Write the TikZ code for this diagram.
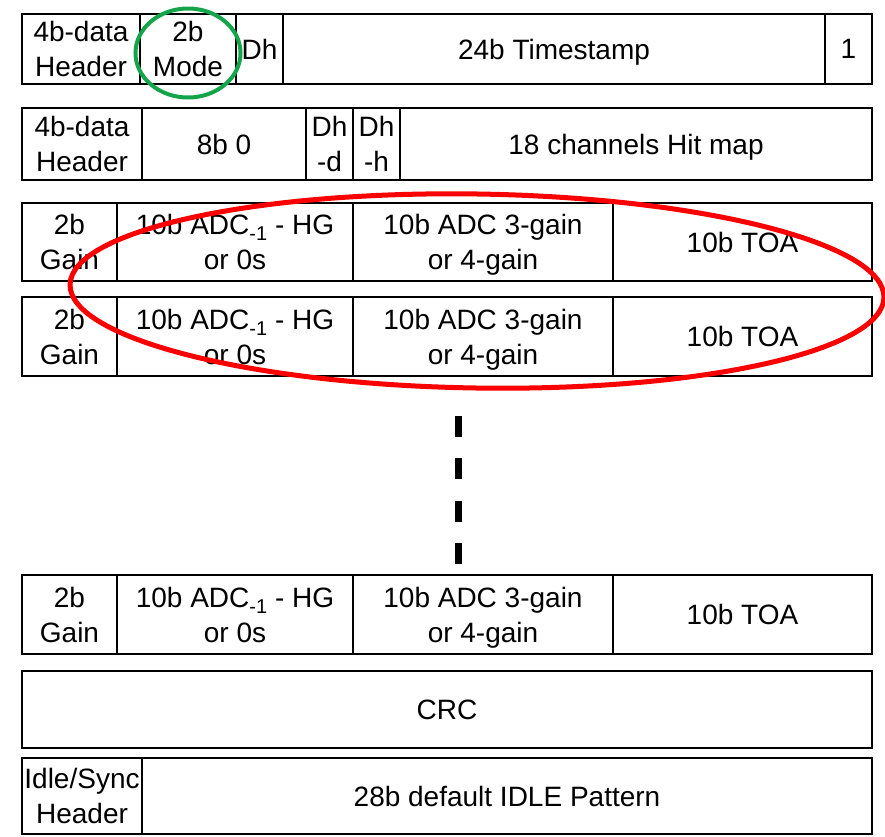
\documentclass[tikz,border=0pt]{standalone}
\usepackage{fontspec}
\setmainfont{Liberation Sans}
\definecolor{circgreen}{RGB}{20,165,75}
\definecolor{ovalred}{RGB}{250,0,0}
\newcommand\fsz{\fontsize{28}{35}\selectfont}
\newcommand\subone{\raisebox{-6pt}{\fontsize{20}{20}\selectfont -1}}
\tikzset{
  cell/.style={draw=black, line width=1.8pt, inner sep=0pt, outer sep=0pt,
    anchor=north west, align=center, font=\fsz, text depth=0pt},
}
\begin{document}
\begin{tikzpicture}[x=1pt,y=1pt]
\useasboundingbox (0,0) rectangle (885,-836);
% Row 1
\node[cell, minimum width=118pt, minimum height=70pt] (r1a) at (22,-14) {4b-data\\Header};
\node[cell, minimum width=96pt, minimum height=70pt] (r1b) at (140,-14) {2b\\Mode};
\node[cell, minimum width=47pt, minimum height=70pt] (r1c) at (236,-14) {Dh};
\node[cell, minimum width=542pt, minimum height=70pt] (r1d) at (283,-14) {24b Timestamp};
\node[cell, minimum width=47pt, minimum height=70pt] (r1e) at (825,-14) {1};
% Row 2
\node[cell, minimum width=120pt, minimum height=72pt] (r2a) at (22,-108) {4b-data\\Header};
\node[cell, minimum width=164pt, minimum height=72pt] (r2b) at (142,-108) {8b 0};
\node[cell, minimum width=47pt, minimum height=72pt] (r2c) at (306,-108) {Dh\\-d};
\node[cell, minimum width=47pt, minimum height=72pt] (r2d) at (353,-108) {Dh\\-h};
\node[cell, minimum width=472pt, minimum height=72pt] (r2e) at (400,-108) {18 channels Hit map};
% Row 3
\node[cell, minimum width=95pt, minimum height=78pt] (r3a) at (22,-203) {2b\\Gain};
\node[cell, minimum width=236pt, minimum height=78pt] (r3b) at (117,-203) {10b ADC\subone{} - HG\\or 0s};
\node[cell, minimum width=260pt, minimum height=78pt] (r3c) at (353,-203) {10b ADC 3-gain\\or 4-gain};
\node[cell, minimum width=259pt, minimum height=78pt] (r3d) at (613,-203) {10b TOA};
% Row 4
\node[cell, minimum width=95pt, minimum height=79pt] (r4a) at (22,-297) {2b\\Gain};
\node[cell, minimum width=236pt, minimum height=79pt] (r4b) at (117,-297) {10b ADC\subone{} - HG\\or 0s};
\node[cell, minimum width=260pt, minimum height=79pt] (r4c) at (353,-297) {10b ADC 3-gain\\or 4-gain};
\node[cell, minimum width=259pt, minimum height=79pt] (r4d) at (613,-297) {10b TOA};
% Dashed continuation
\coordinate (d1) at (458,-416);
\coordinate (d2) at (458,-564);
\draw[line width=7pt, dash pattern=on 21pt off 21.3pt] (d1) -- (d2);
% Row 5
\node[cell, minimum width=95pt, minimum height=79pt] (r5a) at (22,-575) {2b\\Gain};
\node[cell, minimum width=236pt, minimum height=79pt] (r5b) at (117,-575) {10b ADC\subone{} - HG\\or 0s};
\node[cell, minimum width=260pt, minimum height=79pt] (r5c) at (353,-575) {10b ADC 3-gain\\or 4-gain};
\node[cell, minimum width=259pt, minimum height=79pt] (r5d) at (613,-575) {10b TOA};
% CRC
\node[cell, minimum width=850pt, minimum height=77pt] (crc) at (22,-671) {CRC};
% Idle
\node[cell, minimum width=120pt, minimum height=76pt] (ida) at (22,-758) {Idle/Sync\\Header};
\node[cell, minimum width=730pt, minimum height=76pt] (idb) at (142,-758) {28b default IDLE Pattern};
% Highlights
\draw[circgreen, line width=4pt] (188,-53) ellipse (52.5pt and 44.5pt);
\draw[ovalred, line width=5pt, rotate around={-0.9:(477,-291)}] (477,-291) ellipse (407pt and 97pt);
\end{tikzpicture}
\end{document}
